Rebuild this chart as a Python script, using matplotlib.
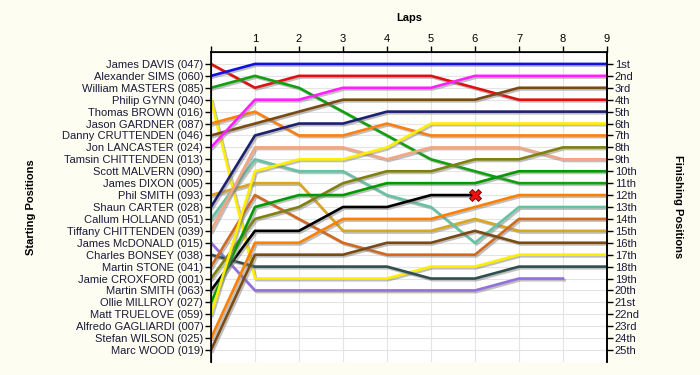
import numpy as np
import matplotlib
matplotlib.use("Agg")
import matplotlib.pyplot as plt
import matplotlib.patheffects as pe

plt.rcParams['font.family'] = ['Liberation Sans', 'DejaVu Sans']

# starting grid (top to bottom)
names = ["James DAVIS (047)", "Alexander SIMS (060)", "William MASTERS (085)",
         "Philip GYNN (040)", "Thomas BROWN (016)", "Jason GARDNER (087)",
         "Danny CRUTTENDEN (046)", "Jon LANCASTER (024)", "Tamsin CHITTENDEN (013)",
         "Scott MALVERN (090)", "James DIXON (005)", "Phil SMITH (093)",
         "Shaun CARTER (028)", "Callum HOLLAND (051)", "Tiffany CHITTENDEN (039)",
         "James McDONALD (015)", "Charles BONSEY (038)", "Martin STONE (041)",
         "Jamie CROXFORD (001)", "Martin SMITH (063)", "Ollie MILLROY (027)",
         "Matt TRUELOVE (059)", "Alfredo GAGLIARDI (007)", "Stefan WILSON (025)",
         "Marc WOOD (019)"]

finish_labels = ["1st", "2nd", "3rd", "4th", "5th", "6th", "7th", "8th", "9th",
                 "10th", "11th", "12th", "13th", "14th", "15th", "16th", "17th",
                 "18th", "19th", "20th", "21st", "22nd", "23rd", "24th", "25th"]

laps = list(range(10))

# position at lap 0 (start) .. lap 9, None = not running
davis      = [1, 3, 2, 2, 2, 2, 3, 4, 4, 4]
sims       = [2, 1, 1, 1, 1, 1, 1, 1, 1, 1]
masters    = [3, 2, 3, 5, 7, 9, 10, 11, 11, 11]
gynn       = [4, 19, 19, 19, 19, 18, 18, 17, 17, 17]
gardner    = [6, 5, 7, 7, 6, 7, 7, 7, 7, 7]
cruttenden = [7, 6, 5, 4, 4, 4, 4, 3, 3, 3]
lancaster  = [8, 4, 4, 3, 3, 3, 2, 2, 2, 2]
p_smith    = [12, 11, 11, 15, 15, 15, 14, 15, 15, 15]
carter     = [13, 7, 6, 6, 5, 5, 5, 5, 5, 5]
holland    = [14, 9, 10, 10, 12, 13, 16, 13, 13, 13]
t_chitt    = [15, 8, 8, 8, 9, 8, 8, 8, 9, 9]
mcdonald   = [16, 20, 20, 20, 20, 20, 20, 19, 19, None]
bonsey     = [17, 18, 18, 18, 18, 19, 19, 18, 18, 18]
stone      = [18, 12, 14, 16, 17, 17, 17, 14, 14, 14]
croxford   = [19, 14, 13, 11, 10, 10, 9, 9, 8, 8]
m_smith    = [20, 15, 15, 13, 13, 12, 12, None, None, None]
millroy    = [21, 13, 12, 12, 11, 11, 11, 10, 10, 10]
truelove   = [22, 10, 9, 9, 8, 6, 6, 6, 6, 6]
wilson     = [24, 16, 16, 14, 14, 14, 13, 12, 12, 12]
wood       = [25, 17, 17, 17, 16, 16, 15, 16, 16, 16]

runs = [davis, sims, masters, gynn, gardner, cruttenden, lancaster, p_smith,
        carter, holland, t_chitt, mcdonald, bonsey, stone, croxford, m_smith,
        millroy, truelove, wilson, wood]
retired = [m_smith]

colors = ['#e01010', '#1010e0', '#10a010', '#ffee00', '#ff8010', '#7a4a14',
          '#ff20ff', '#daa520', '#202070', '#66c2a5', '#f4a582', '#9370db',
          '#2f4f4f', '#d2691e', '#808010', '#000000', '#009a00', '#ffee00',
          '#ff8000', '#7a4a14']

fig = plt.figure(figsize=(7, 3.75), dpi=100, facecolor='#fdfdf2')
ax = fig.add_axes([0.3014, 0.0347, 0.5657, 0.8266])
ax.set_facecolor('white')

shadow = [pe.SimpleLineShadow(offset=(1.2, -1.2), shadow_color='gray', alpha=0.5), pe.Normal()]
for run, c in zip(runs, colors):
    y = np.array([np.nan if v is None else v for v in run], dtype=float)
    ax.plot(laps, y, color=c, lw=1.9, path_effects=shadow, zorder=3)
    if run in retired:
        last = np.where(~np.isnan(y))[0][-1]
        ax.plot(laps[last], y[last], marker='X', ms=8, color='#ee1111',
                mec='#660000', mew=0.6, zorder=5)

ax.set_xlim(0, 9)
ax.set_ylim(26, 0)
ax.xaxis.tick_top()
ax.set_xticks(laps)
ax.set_xticklabels([''] + [str(i) for i in laps[1:]], fontsize=8)
ax.set_yticks(range(1, 26))
ax.set_yticklabels(names, fontsize=8, color='#1a1a3a')
ax.tick_params(axis='both', length=4, width=1, pad=1.5)
ax.grid(color='#e4e4e4', lw=0.8, zorder=0)
ax.set_axisbelow(True)
ax.spines['bottom'].set_visible(False)
for s in ['left', 'top', 'right']:
    ax.spines[s].set_linewidth(1.2)

ax2 = ax.twinx()
ax2.set_ylim(26, 0)
ax2.set_yticks(range(1, 26))
ax2.set_yticklabels(finish_labels, fontsize=8, color='#1a1a3a')
ax2.tick_params(axis='y', length=4, width=1, pad=1.5)
ax2.spines['bottom'].set_visible(False)
ax2.spines['right'].set_linewidth(1.2)

fig.text(0.584, 0.952, "Laps", fontsize=8, fontweight='bold', ha='center', va='center')
fig.text(0.045, 0.448, "Starting Positions", fontsize=8, fontweight='bold',
         rotation=90, ha='center', va='center')
fig.text(0.968, 0.448, "Finishing Positions", fontsize=8, fontweight='bold',
         rotation=-90, ha='center', va='center')

fig.savefig("out.png", dpi=100, facecolor=fig.get_facecolor())
